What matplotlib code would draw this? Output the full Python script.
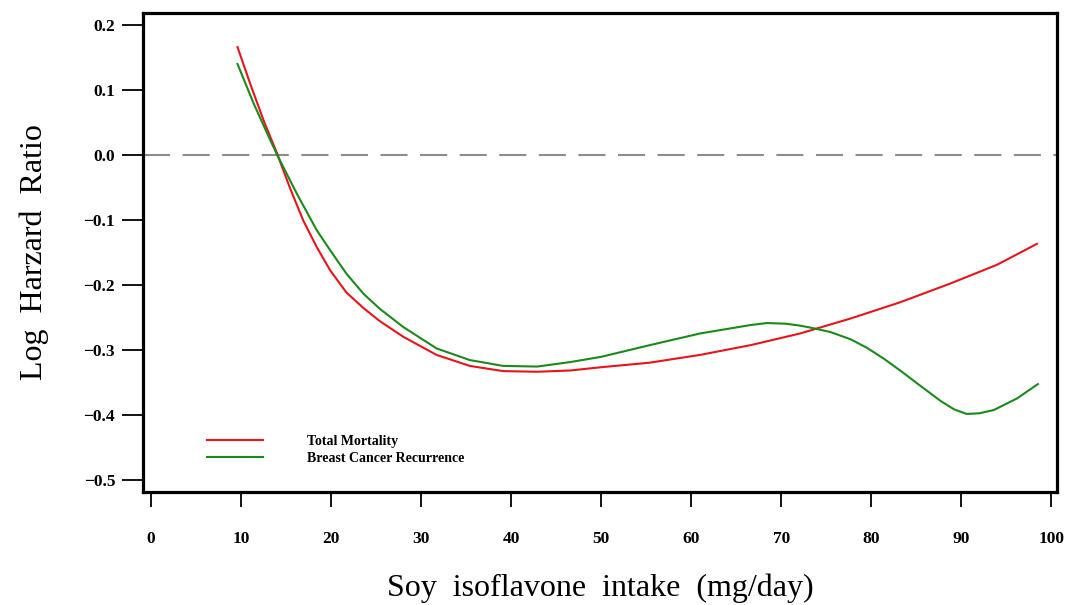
import matplotlib
matplotlib.use("Agg")
import matplotlib.pyplot as plt

# 값은 그림에서 읽은 추정치
intake_red = [9.6, 11.0, 12.5, 14.0, 15.4, 16.9, 18.4, 19.9, 21.7, 23.6, 25.4, 28.0,
              31.7, 35.4, 39.1, 42.9, 46.6, 50.0, 55.4, 61.0, 66.6, 72.1, 77.7,
              83.2, 88.8, 94.0, 98.4]
total_mortality = [0.166, 0.110, 0.053, 0.002, -0.050, -0.101, -0.142, -0.178,
                   -0.212, -0.236, -0.256, -0.280, -0.308, -0.325, -0.333, -0.334,
                   -0.332, -0.327, -0.320, -0.308, -0.293, -0.275, -0.252, -0.227,
                   -0.198, -0.169, -0.137]

intake_green = [9.6, 11.4, 12.9, 14.0, 16.2, 18.4, 19.9, 21.7, 23.6, 25.4, 28.0,
                31.7, 35.4, 39.1, 42.9, 46.6, 50.0, 55.4, 61.0, 66.6, 68.4, 70.5,
                72.1, 73.6, 75.5, 77.7, 79.5, 81.4, 83.3, 85.1, 87.7, 89.2, 90.6,
                92.0, 93.6, 96.2, 98.5]
breast_cancer = [0.140, 0.079, 0.033, 0.000, -0.060, -0.116, -0.147, -0.183,
                 -0.214, -0.237, -0.265, -0.298, -0.316, -0.325, -0.326, -0.319,
                 -0.311, -0.293, -0.275, -0.262, -0.259, -0.260, -0.263, -0.267,
                 -0.273, -0.284, -0.297, -0.314, -0.333, -0.352, -0.379, -0.392,
                 -0.399, -0.398, -0.393, -0.375, -0.353]

x_ticks = [0, 10, 20, 30, 40, 50, 60, 70, 80, 90, 100]
y_ticks = [0.2, 0.1, 0.0, -0.1, -0.2, -0.3, -0.4, -0.5]

plt.rcParams['font.family'] = ['Liberation Serif', 'DejaVu Serif']
plt.rcParams['font.weight'] = 'bold'

fig = plt.figure(figsize=(10.67, 6.05), dpi=100)
ax = fig.add_axes([0.134, 0.187, 0.857, 0.792])

ax.axhline(0, color='#8c8c8c', lw=1.5, ls=(0, (13, 6)), zorder=1)
ax.plot(intake_red, total_mortality, color='#e8141c', lw=1.5, label='Total Mortality')
ax.plot(intake_green, breast_cancer, color='#1a8a1a', lw=1.5, label='Breast Cancer Recurrence')

ax.set_xlim(-0.9, 100.67)
ax.set_ylim(-0.519, 0.219)
ax.set_xticks(x_ticks)
ax.set_yticks(y_ticks)
ax.set_xticklabels([str(v) for v in x_ticks])
ax.set_yticklabels(['%.1f' % v if v >= 0 else '\u2212%.1f' % abs(v) for v in y_ticks])

for s in ax.spines.values():
    s.set_linewidth(2.3)
ax.tick_params(axis='y', direction='out', length=15, width=1.3, pad=5, labelsize=12.5)
ax.tick_params(axis='x', direction='out', length=11, width=1.3, pad=17, labelsize=12.5)

ax.set_xlabel('Soy  isoflavone  intake  (mg/day)', fontsize=23, fontweight='normal', labelpad=19)
ax.set_ylabel('Log  Harzard  Ratio', fontsize=23, fontweight='normal', labelpad=25)

leg = ax.legend(loc='center left', bbox_to_anchor=(0.07, 0.088), frameon=False,
                fontsize=10, handlelength=4.0, handletextpad=3.2, labelspacing=0.3,
                borderpad=0, borderaxespad=0)

fig.savefig('out.png', dpi=100)
